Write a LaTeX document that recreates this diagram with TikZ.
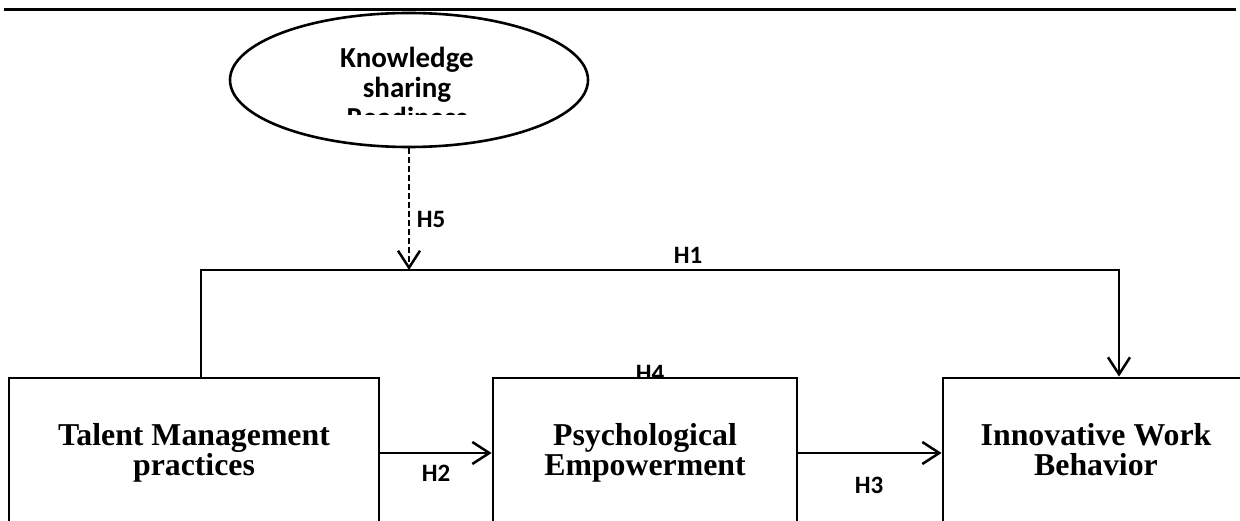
\documentclass[tikz,border=0pt]{standalone}
\usepackage{fontspec}
\setmainfont{Liberation Serif}
\newfontfamily\carl{Carlito}
\usetikzlibrary{arrows.meta,shapes.geometric}
\begin{document}
\begin{tikzpicture}[x=1pt,y=-1pt,
  box/.style={draw, line width=2.8pt, fill=white, minimum height=150pt, align=center,
    font=\fontsize{31.8}{30}\selectfont\bfseries, inner sep=0pt},
  hyp/.style={font=\carl\fontsize{25}{28}\selectfont\bfseries, inner sep=0pt},
  conn/.style={line width=2.5pt, -{Straight Barb[length=17pt,width=22pt]}},
  ]
\useasboundingbox (0,0) rectangle (1240,521);
\clip (0,0) rectangle (1240,521);
% top rule
\coordinate (ruleL) at (4,10);
\coordinate (ruleR) at (1236,10);
\draw[line width=3pt] (ruleL) -- (ruleR);
% moderator ellipse
\node[ellipse, draw, line width=2.6pt, minimum width=358pt, minimum height=134pt, inner sep=0pt] (ksr) at (409,80) {};
\begin{scope}
  \clip (300,20) rectangle (520,115);
  \node[align=center, inner sep=0pt, font=\carl\fontsize{29}{30}\selectfont\bfseries] (ksrtext) at (407,87) {Knowledge\\sharing\\Readiness};
\end{scope}
% H4 label (partly hidden behind box)
\node[hyp] (h4) at (650,373) {H4};
% boxes
\node[box, minimum width=370pt] (tm) at (194,453) {Talent Management\\practices};
\node[box, minimum width=304pt] (pe) at (645,453) {Psychological\\Empowerment};
\node[box, minimum width=306pt] (iwb) at (1096,453) {Innovative Work\\Behavior\vphantom{p}};
% H1 path
\coordinate (c1) at (201,270);
\coordinate (c2) at (1119,270);
\draw[conn] (tm.north -| c1) -- (c1) -- (c2) -- (c2 |- iwb.north);
% moderation
\draw[conn, dash pattern=on 6pt off 3pt] (ksr.south) -- (ksr.south |- c1);
% H2, H3
\draw[conn] (tm.east) -- (pe.west);
\draw[conn] (pe.east) -- (iwb.west);
% labels
\node[hyp] (h5) at (431,219) {H5};
\node[hyp] (h1) at (688,255) {H1};
\node[hyp] (h2) at (436,473.5) {H2};
\node[hyp] (h3) at (869,485) {H3};
\end{tikzpicture}
\end{document}
